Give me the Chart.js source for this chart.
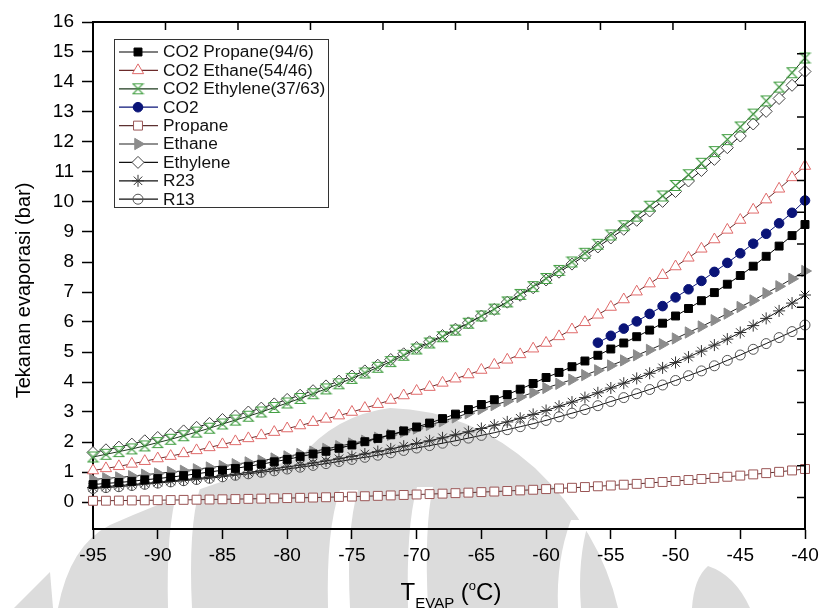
<!DOCTYPE html>
<html lang="id">
<head>
  <meta charset="UTF-8">
  <title>Tekanan evaporasi</title>
  <script src="https://cdn.jsdelivr.net/npm/chart.js"></script>
  <style>
    html, body { margin: 0; padding: 0; background: #fff; }
    #wadah { width: 835px; height: 608px; }
  </style>
</head>
<body>
<div id="wadah"><canvas id="grafikTekanan" width="835" height="608"></canvas></div>

<script>
  // suhu evaporasi (°C), satu titik tiap derajat
  const suhu = [-95, -94, -93, -92, -91, -90, -89, -88, -87, -86, -85, -84, -83, -82, -81,
    -80, -79, -78, -77, -76, -75, -74, -73, -72, -71, -70, -69, -68, -67, -66, -65, -64,
    -63, -62, -61, -60, -59, -58, -57, -56, -55, -54, -53, -52, -51, -50, -49, -48, -47,
    -46, -45, -44, -43, -42, -41, -40];
  // CO2 murni hanya di atas titik tripel
  const suhuCO2 = [-56, -55, -54, -53, -52, -51, -50, -49, -48, -47, -46, -45, -44, -43, -42, -41, -40];

  const labelSuhu = [-95, -90, -85, -80, -75, -70, -65, -60, -55, -50, -45, -40];
  const labelTekanan = [0, 1, 2, 3, 4, 5, 6, 7, 8, 9, 10, 11, 12, 13, 14, 15, 16];
  // tick kecil ke dalam pada sisi atas dan kanan bingkai
  const tickAtas = [-89.4, -83.8, -78.2, -72.6, -67.0, -61.4, -55.8, -50.2, -44.6];
  const tickKanan = [14.94, 13.89, 12.83, 11.77, 10.72, 9.66, 8.60, 7.55, 6.49, 5.43, 4.38, 3.32, 2.26, 1.21, 0.15];

  // tekanan evaporasi (bar)
  const co2Propane = [0.58, 0.62, 0.65, 0.69, 0.74, 0.78, 0.83, 0.88, 0.94, 1.00, 1.06, 1.12, 1.19, 1.26, 1.34,
    1.42, 1.51, 1.60, 1.69, 1.79, 1.90, 2.01, 2.12, 2.24, 2.37, 2.50, 2.63, 2.78, 2.93, 3.08,
    3.25, 3.41, 3.58, 3.76, 3.95, 4.15, 4.32, 4.51, 4.70, 4.89, 5.10, 5.30, 5.51, 5.73, 5.96,
    6.20, 6.45, 6.71, 6.98, 7.26, 7.55, 7.86, 8.19, 8.53, 8.88, 9.25];
  const co2Ethane = [1.05, 1.12, 1.19, 1.27, 1.36, 1.45, 1.53, 1.62, 1.72, 1.82, 1.92, 2.02, 2.12, 2.22, 2.33,
    2.45, 2.55, 2.66, 2.77, 2.88, 3.00, 3.13, 3.26, 3.40, 3.55, 3.70, 3.83, 3.97, 4.11, 4.25,
    4.40, 4.57, 4.74, 4.92, 5.11, 5.30, 5.52, 5.75, 5.99, 6.24, 6.50, 6.75, 7.01, 7.28, 7.56,
    7.85, 8.14, 8.44, 8.75, 9.07, 9.40, 9.74, 10.08, 10.44, 10.82, 11.20];
  const co2Ethylene = [1.50, 1.59, 1.68, 1.77, 1.87, 1.98, 2.09, 2.21, 2.33, 2.46, 2.60, 2.73, 2.86, 3.00, 3.15,
    3.30, 3.45, 3.61, 3.77, 3.94, 4.12, 4.30, 4.49, 4.68, 4.89, 5.10, 5.30, 5.51, 5.73, 5.96,
    6.20, 6.43, 6.67, 6.92, 7.18, 7.45, 7.72, 8.00, 8.29, 8.59, 8.90, 9.21, 9.53, 9.86, 10.20,
    10.55, 10.91, 11.29, 11.68, 12.08, 12.50, 12.93, 13.37, 13.83, 14.31, 14.80];
  const co2 = [5.31, 5.54, 5.78, 6.02, 6.27, 6.53, 6.82, 7.09, 7.37, 7.67, 7.97, 8.29, 8.61, 8.94, 9.29, 9.64, 10.05];
  const propane = [0.040, 0.043, 0.047, 0.051, 0.055, 0.060, 0.065, 0.071, 0.077, 0.083, 0.090, 0.097, 0.104, 0.112, 0.121,
    0.130, 0.139, 0.148, 0.158, 0.169, 0.180, 0.192, 0.205, 0.219, 0.234, 0.250, 0.264, 0.279, 0.295, 0.312,
    0.330, 0.348, 0.367, 0.387, 0.408, 0.430, 0.452, 0.474, 0.498, 0.524, 0.550, 0.577, 0.605, 0.635, 0.667,
    0.700, 0.733, 0.767, 0.803, 0.841, 0.880, 0.920, 0.962, 1.006, 1.052, 1.100];
  const ethane = [0.75, 0.79, 0.82, 0.86, 0.91, 0.95, 1.00, 1.04, 1.09, 1.15, 1.20, 1.26, 1.32, 1.38, 1.45,
    1.52, 1.60, 1.68, 1.77, 1.86, 1.95, 2.04, 2.14, 2.24, 2.34, 2.45, 2.57, 2.69, 2.82, 2.96,
    3.10, 3.23, 3.36, 3.50, 3.65, 3.80, 3.94, 4.08, 4.23, 4.39, 4.55, 4.72, 4.89, 5.07, 5.26,
    5.45, 5.65, 5.85, 6.06, 6.28, 6.50, 6.72, 6.96, 7.19, 7.44, 7.70];
  const ethylene = [1.65, 1.74, 1.83, 1.93, 2.04, 2.15, 2.26, 2.37, 2.49, 2.62, 2.75, 2.87, 3.00, 3.13, 3.27,
    3.42, 3.56, 3.71, 3.87, 4.03, 4.20, 4.37, 4.56, 4.75, 4.94, 5.15, 5.34, 5.55, 5.76, 5.97,
    6.20, 6.42, 6.66, 6.89, 7.14, 7.40, 7.66, 7.93, 8.21, 8.50, 8.80, 9.09, 9.39, 9.70, 10.02,
    10.35, 10.70, 11.05, 11.42, 11.81, 12.20, 12.60, 13.02, 13.45, 13.89, 14.35];
  const r23 = [0.48, 0.51, 0.55, 0.58, 0.62, 0.66, 0.70, 0.74, 0.78, 0.83, 0.88, 0.93, 0.99, 1.04, 1.11,
    1.17, 1.23, 1.30, 1.37, 1.44, 1.52, 1.60, 1.68, 1.77, 1.86, 1.95, 2.04, 2.14, 2.24, 2.34,
    2.45, 2.56, 2.67, 2.79, 2.92, 3.05, 3.19, 3.33, 3.48, 3.64, 3.80, 3.96, 4.12, 4.29, 4.47,
    4.65, 4.83, 5.03, 5.23, 5.43, 5.65, 5.88, 6.12, 6.37, 6.63, 6.90];
  const r13 = [0.45, 0.48, 0.51, 0.55, 0.59, 0.63, 0.67, 0.71, 0.75, 0.79, 0.84, 0.89, 0.94, 0.99, 1.04,
    1.10, 1.16, 1.22, 1.28, 1.35, 1.42, 1.49, 1.56, 1.64, 1.72, 1.80, 1.88, 1.96, 2.04, 2.13,
    2.22, 2.31, 2.41, 2.51, 2.61, 2.72, 2.84, 2.96, 3.08, 3.21, 3.35, 3.48, 3.61, 3.75, 3.90,
    4.05, 4.21, 4.37, 4.54, 4.72, 4.90, 5.09, 5.28, 5.48, 5.68, 5.90];

  const FONT = '"Liberation Sans", Arial, sans-serif';

  // simbol jam pasir hijau untuk campuran CO2/ethylene
  function simbolJamPasir(warna) {
    const c = document.createElement('canvas');
    c.width = 13; c.height = 13;
    const g = c.getContext('2d');
    g.strokeStyle = warna;
    g.lineWidth = 1.1;
    g.beginPath();
    g.moveTo(1.5, 1.5); g.lineTo(11.5, 1.5); g.lineTo(1.5, 11.5); g.lineTo(11.5, 11.5);
    g.closePath();
    g.stroke();
    return c;
  }

  function seri(label, nilai, sumbuX, gaya) {
    return Object.assign({
      label: label,
      data: sumbuX.map((t, i) => ({ x: t, y: nilai[i] })),
      xAxisID: 'x',
      yAxisID: 'y',
      borderWidth: 1,
      pointBorderWidth: 1,
      pointHoverRadius: 0,
      tension: 0,
      fill: false,
      clip: false
    }, gaya);
  }

  const datasets = [
    seri('CO2 Propane(94/6)', co2Propane, suhu, {
      borderColor: '#000', pointStyle: 'rect', pointRadius: 5.6,
      pointBackgroundColor: '#000', pointBorderColor: '#000'
    }),
    seri('CO2 Ethane(54/46)', co2Ethane, suhu, {
      borderColor: '#6b2a2a', pointStyle: 'triangle', pointRadius: 6.5,
      pointBackgroundColor: '#fff', pointBorderColor: '#e06a6a'
    }),
    seri('CO2 Ethylene(37/63)', co2Ethylene, suhu, {
      borderColor: '#1c3a1c', pointStyle: simbolJamPasir('#45a045'), pointRadius: 6,
      pointBackgroundColor: '#45a045', pointBorderColor: '#45a045'
    }),
    seri('CO2', co2, suhuCO2, {
      borderColor: '#0a1478', pointStyle: 'circle', pointRadius: 4.8,
      pointBackgroundColor: '#0a1478', pointBorderColor: '#0a1478'
    }),
    seri('Propane', propane, suhu, {
      borderColor: '#5c3030', pointStyle: 'rect', pointRadius: 6.3,
      pointBackgroundColor: '#fff', pointBorderColor: '#9a5555'
    }),
    seri('Ethane', ethane, suhu, {
      borderColor: '#222', pointStyle: 'triangle', pointRotation: 90, pointRadius: 6.5,
      pointBackgroundColor: '#8c8c8c', pointBorderColor: '#8c8c8c'
    }),
    seri('Ethylene', ethylene, suhu, {
      borderColor: '#111', pointStyle: 'rectRot', pointRadius: 6,
      pointBackgroundColor: '#fff', pointBorderColor: '#444'
    }),
    seri('R23', r23, suhu, {
      borderColor: '#111', pointStyle: 'star', pointRadius: 6,
      pointBackgroundColor: '#333', pointBorderColor: '#333'
    }),
    seri('R13', r13, suhu, {
      borderColor: '#111', pointStyle: 'circle', pointRadius: 5,
      pointBackgroundColor: 'rgba(255,255,255,0)', pointBorderColor: '#555'
    })
  ];

  // watermark logo abu-abu di belakang grafik
  const watermark = {
    id: 'watermark',
    beforeDraw(chart) {
      const ctx = chart.ctx;
      ctx.save();
      ctx.fillStyle = '#dcdcdc';
      ctx.beginPath();
      ctx.moveTo(58, 608);
      ctx.quadraticCurveTo(70, 545, 110, 525);
      ctx.quadraticCurveTo(200, 485, 300, 458);
      ctx.quadraticCurveTo(335, 415, 390, 408);
      ctx.quadraticCurveTo(470, 410, 535, 468);
      ctx.quadraticCurveTo(600, 530, 618, 608);
      ctx.closePath();
      ctx.fill();

      ctx.beginPath();
      ctx.moveTo(14, 608);
      ctx.lineTo(50, 572);
      ctx.lineTo(53, 608);
      ctx.closePath();
      ctx.fill();

      ctx.beginPath();
      ctx.moveTo(692, 608);
      ctx.quadraticCurveTo(694, 578, 708, 566);
      ctx.quadraticCurveTo(735, 575, 750, 608);
      ctx.closePath();
      ctx.fill();

      // garis putih melengkung di dalam logo
      ctx.fillStyle = '#fff';
      const pita = [
        [168, 178, 200, 192, 488],
        [328, 340, 358, 350, 490],
        [408, 417, 433, 428, 487],
        [558, 571, 589, 581, 520]
      ];
      pita.forEach(([x0, x1, x2, x3, yAtas]) => {
        ctx.beginPath();
        ctx.moveTo(x0, 608);
        ctx.quadraticCurveTo(x0 - 2, yAtas + 40, x1, yAtas);
        ctx.lineTo(x2, yAtas);
        ctx.quadraticCurveTo(x3 - 4, yAtas + 40, x3, 608);
        ctx.closePath();
        ctx.fill();
      });
      ctx.restore();
    }
  };

  // bingkai atas/kanan dengan tick ke dalam
  const bingkai = {
    id: 'bingkai',
    afterDraw(chart) {
      const { ctx, chartArea: a, scales } = chart;
      ctx.save();
      ctx.strokeStyle = '#000';
      ctx.lineWidth = 2;
      ctx.beginPath();
      ctx.moveTo(a.left, a.top);
      ctx.lineTo(a.right, a.top);
      ctx.lineTo(a.right, a.bottom);
      ctx.stroke();
      ctx.lineWidth = 1.5;
      ctx.beginPath();
      tickAtas.forEach(v => {
        const x = scales.x.getPixelForValue(v);
        ctx.moveTo(x, a.top); ctx.lineTo(x, a.top + 8);
      });
      tickKanan.forEach(v => {
        const y = scales.y.getPixelForValue(v);
        ctx.moveTo(a.right, y); ctx.lineTo(a.right - 8, y);
      });
      ctx.stroke();
      ctx.restore();
    }
  };

  // legenda dengan contoh garis + simbol
  const legenda = {
    id: 'legenda',
    afterDraw(chart) {
      const { ctx, chartArea: a } = chart;
      const kiri = a.left + 21, atas = a.top + 17, lebar = 214, tinggi = 168;
      ctx.save();
      ctx.fillStyle = '#fff';
      ctx.fillRect(kiri, atas, lebar, tinggi);
      ctx.strokeStyle = '#333';
      ctx.lineWidth = 1;
      ctx.strokeRect(kiri + 0.5, atas + 0.5, lebar, tinggi);
      chart.data.datasets.forEach((ds, i) => {
        const y = atas + 13 + i * 18.4;
        ctx.strokeStyle = ds.borderColor;
        ctx.lineWidth = 1.2;
        ctx.beginPath();
        ctx.moveTo(kiri + 5, y);
        ctx.lineTo(kiri + 44, y);
        ctx.stroke();
        ctx.fillStyle = ds.pointBackgroundColor;
        ctx.strokeStyle = ds.pointBorderColor;
        ctx.lineWidth = 1;
        Chart.helpers.drawPoint(ctx, {
          pointStyle: ds.pointStyle,
          rotation: ds.pointRotation || 0,
          radius: ds.pointRadius,
          borderWidth: 1
        }, kiri + 24, y);
        ctx.save();
        ctx.translate(kiri + 49, y);
        ctx.scale(1.08, 1);
        ctx.fillStyle = '#111';
        ctx.font = '16px ' + FONT;
        ctx.textBaseline = 'middle';
        ctx.fillText(ds.label, 0, 1);
        ctx.restore();
      });
      ctx.restore();
    }
  };

  // judul sumbu x (dengan subskrip) dan sumbu y
  const judulSumbu = {
    id: 'judulSumbu',
    afterDraw(chart) {
      const { ctx, chartArea: a } = chart;
      ctx.save();
      ctx.fillStyle = '#000';
      ctx.translate(24, (a.top + a.bottom) / 2 + 15);
      ctx.rotate(-Math.PI / 2);
      ctx.font = '20px ' + FONT;
      ctx.textAlign = 'center';
      ctx.textBaseline = 'middle';
      ctx.fillText('Tekanan evaporasi (bar)', 0, 0);
      ctx.restore();

      const bagian = [
        { teks: 'T', ukuran: 24, dy: 0 },
        { teks: 'EVAP', ukuran: 15, dy: 8 },
        { teks: ' (', ukuran: 24, dy: 0 },
        { teks: 'o', ukuran: 13, dy: -10 },
        { teks: 'C)', ukuran: 24, dy: 0 }
      ];
      ctx.save();
      ctx.fillStyle = '#000';
      ctx.textBaseline = 'alphabetic';
      let total = 0;
      bagian.forEach(b => { ctx.font = b.ukuran + 'px ' + FONT; b.w = ctx.measureText(b.teks).width; total += b.w; });
      let x = (a.left + a.right) / 2 - total / 2 + 2;
      const dasar = 600;
      bagian.forEach(b => {
        ctx.font = b.ukuran + 'px ' + FONT;
        ctx.fillText(b.teks, x, dasar + b.dy);
        x += b.w;
      });
      ctx.restore();
    }
  };

  const ctxTekanan = document.getElementById('grafikTekanan').getContext('2d');

  const grafikTekanan = new Chart(ctxTekanan, {
    type: 'line',
    data: { datasets: datasets },
    plugins: [watermark, bingkai, legenda, judulSumbu],
    options: {
      responsive: false,
      animation: false,
      layout: { padding: { left: 33, right: 30, top: 22, bottom: 39 } },
      plugins: {
        legend: { display: false },
        tooltip: { enabled: false }
      },
      scales: {
        x: {
          type: 'linear',
          position: 'bottom',
          min: -95,
          max: -40,
          afterBuildTicks: s => { s.ticks = labelSuhu.map(v => ({ value: v })); },
          afterFit: s => { s.height = 40; },
          grid: { drawOnChartArea: false, tickLength: 10, tickWidth: 1.5, tickColor: '#000' },
          border: { display: true, color: '#000', width: 2 },
          ticks: { color: '#000', padding: 5, maxRotation: 0, font: { family: FONT, size: 19 } }
        },
        y: {
          type: 'linear',
          position: 'left',
          min: -0.9,
          max: 16,
          afterBuildTicks: s => { s.ticks = labelTekanan.map(v => ({ value: v })); },
          afterFit: s => { s.width = 60; },
          grid: { drawOnChartArea: false, tickLength: 11, tickWidth: 1.5, tickColor: '#000' },
          border: { display: true, color: '#000', width: 2 },
          ticks: { color: '#000', padding: 8, font: { family: FONT, size: 19 } }
        }
      }
    }
  });
</script>
</body>
</html>
